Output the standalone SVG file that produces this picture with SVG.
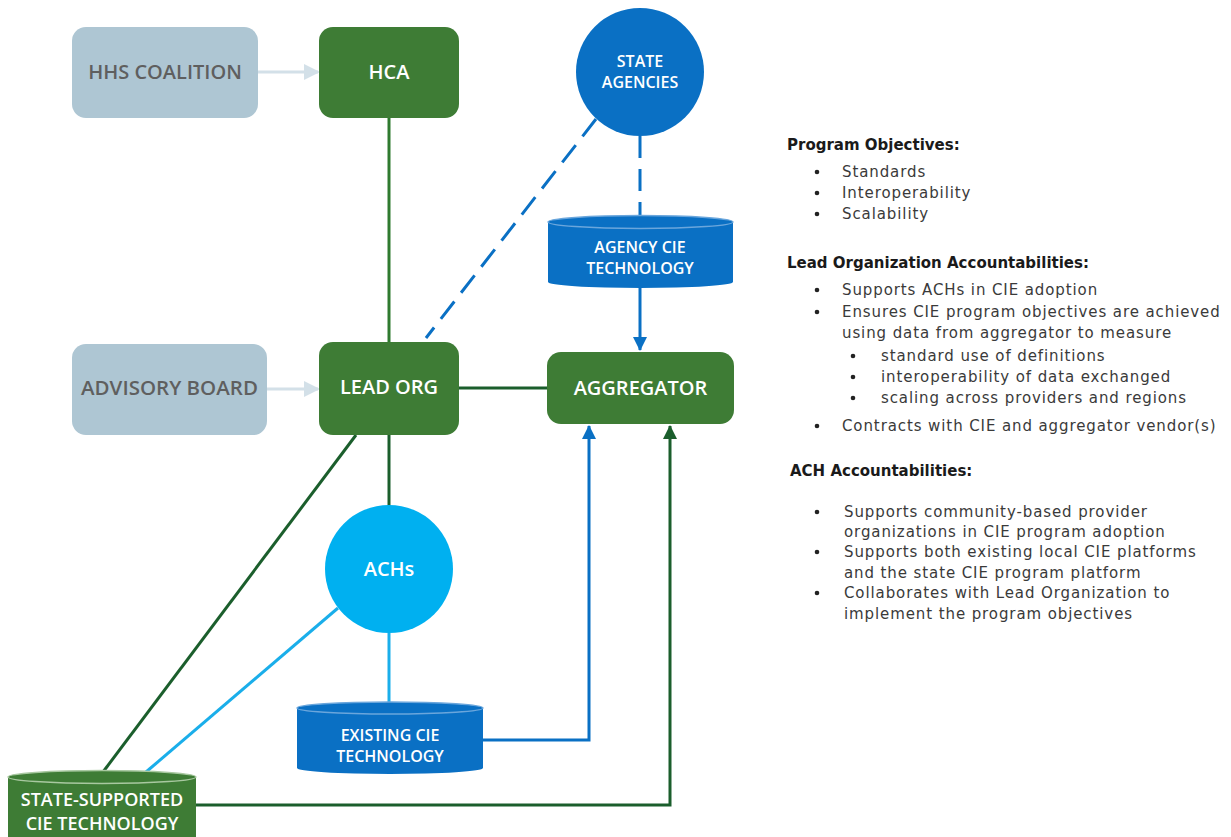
<svg xmlns="http://www.w3.org/2000/svg" width="1231" height="837" viewBox="0 0 1231 837">
<defs>
<style>
.grey{fill:#aec6d3;}
.green{fill:#3e7c35;}
.nt{font-family:"Open Sans","Liberation Sans",sans-serif;font-weight:600;text-anchor:middle;}
.wt{fill:#ffffff;}
.gt{fill:#5f5f5f;}
.side{font-family:"DejaVu Sans","Liberation Sans",sans-serif;font-size:15px;letter-spacing:0.9px;fill:#3a3a3a;}
.head{font-family:"DejaVu Sans","Liberation Sans",sans-serif;font-size:15px;font-weight:bold;fill:#1a1a1a;}
.dot{fill:#222;}
.c{fill:none;stroke-width:3;}
</style>
<marker id="aL" markerUnits="userSpaceOnUse" markerWidth="16" markerHeight="16" refX="14" refY="8" orient="auto"><path d="M0,0 L16,8 L0,16 z" fill="#d3e0e8"/></marker>
<marker id="aB" markerUnits="userSpaceOnUse" markerWidth="14" markerHeight="14" refX="13" refY="7" orient="auto"><path d="M0,0 L14,7 L0,14 z" fill="#0a70c4"/></marker>
<marker id="aG" markerUnits="userSpaceOnUse" markerWidth="14" markerHeight="14" refX="13" refY="7" orient="auto"><path d="M0,0 L14,7 L0,14 z" fill="#1b5e2c"/></marker>
</defs>
<rect width="1231" height="837" fill="#ffffff"/>

<g id="connectors">
<line class="c" x1="258" y1="72" x2="318" y2="72" stroke="#d3e0e8" marker-end="url(#aL)"/>
<line class="c" x1="267" y1="389" x2="318" y2="389" stroke="#d3e0e8" marker-end="url(#aL)"/>
<line class="c" x1="389" y1="118" x2="389" y2="342" stroke="#2f7a2f"/>
<line class="c" x1="459" y1="388" x2="547" y2="388" stroke="#1b5e2c"/>
<line class="c" x1="389" y1="435" x2="389" y2="506" stroke="#1b5e2c"/>
<line class="c" x1="596" y1="119" x2="426" y2="338" stroke="#0a70c4" stroke-dasharray="22,11"/>
<line class="c" x1="640" y1="136" x2="640" y2="215" stroke="#0a70c4" stroke-dasharray="22,11"/>
<line class="c" x1="640" y1="287" x2="640" y2="350" stroke="#0a70c4" marker-end="url(#aB)"/>
<line class="c" x1="389" y1="633" x2="389" y2="703" stroke="#1aaeea"/>
<line class="c" x1="338" y1="608" x2="146" y2="772" stroke="#1aaeea"/>
<line class="c" x1="356" y1="435" x2="103" y2="772" stroke="#1b5e2c"/>
<polyline class="c" points="483,740 589,740 589,426" stroke="#0a70c4" marker-end="url(#aB)"/>
<polyline class="c" points="196,805 670,805 670,426" stroke="#1b5e2c" marker-end="url(#aG)"/>
</g>

<g id="hhs-coalition">
<rect class="grey" x="72" y="27" width="186" height="91" rx="14"/>
<text class="nt gt" x="165" y="79" font-size="20">HHS COALITION</text>
</g>
<g id="hca">
<rect class="green" x="319" y="27" width="140" height="91" rx="14"/>
<text class="nt wt" x="389" y="79" font-size="20">HCA</text>
</g>
<g id="state-agencies">
<circle cx="640" cy="72" r="64" fill="#0a70c4"/>
<text class="nt wt" x="640" y="67" font-size="16">STATE</text>
<text class="nt wt" x="640" y="88" font-size="16">AGENCIES</text>
</g>
<g id="agency-cie">
<path d="M548,222 L548,282 A92.5,6 0 0 0 733,282 L733,222 z" fill="#0a70c4"/>
<ellipse cx="640.5" cy="222" rx="92.5" ry="6.5" fill="#0a70c4" stroke="#6aa6dc" stroke-width="1.5"/>
<text class="nt wt" x="640" y="253" font-size="16">AGENCY CIE</text>
<text class="nt wt" x="640" y="274" font-size="16">TECHNOLOGY</text>
</g>
<g id="advisory-board">
<rect class="grey" x="72" y="344" width="195" height="91" rx="14"/>
<text class="nt gt" x="169.5" y="395" font-size="20.5">ADVISORY BOARD</text>
</g>
<g id="lead-org">
<rect class="green" x="319" y="342" width="140" height="93" rx="14"/>
<text class="nt wt" x="389" y="394" font-size="20">LEAD ORG</text>
</g>
<g id="aggregator">
<rect class="green" x="547" y="352" width="187" height="72" rx="14"/>
<text class="nt wt" x="640.5" y="395" font-size="20">AGGREGATOR</text>
</g>
<g id="achs">
<circle cx="389" cy="569" r="64" fill="#00b0f0"/>
<text class="nt wt" x="389" y="576" font-size="20">ACHs</text>
</g>
<g id="existing-cie">
<path d="M297,708 L297,768 A93,6 0 0 0 483,768 L483,708 z" fill="#0a70c4"/>
<ellipse cx="390" cy="708" rx="93" ry="6" fill="#0a70c4" stroke="#6aa6dc" stroke-width="1.5"/>
<text class="nt wt" x="390" y="741" font-size="16">EXISTING CIE</text>
<text class="nt wt" x="390" y="762" font-size="16">TECHNOLOGY</text>
</g>
<g id="state-supported-cie">
<path d="M8,777 L8,837 L196,837 L196,777 z" fill="#3e7c35"/>
<ellipse cx="102" cy="777" rx="94" ry="6.5" fill="#3e7c35" stroke="#a8c8a0" stroke-width="1.5"/>
<text class="nt wt" x="102" y="806" font-size="18">STATE-SUPPORTED</text>
<text class="nt wt" x="102" y="830" font-size="18">CIE TECHNOLOGY</text>
</g>

<g id="side-text">
<text class="head" x="787" y="150">Program Objectives:</text>
<circle class="dot" cx="817" cy="172" r="2.3"/>
<text class="side" x="842" y="177">Standards</text>
<circle class="dot" cx="817" cy="193" r="2.3"/>
<text class="side" x="842" y="198">Interoperability</text>
<circle class="dot" cx="817" cy="214" r="2.3"/>
<text class="side" x="842" y="219">Scalability</text>

<text class="head" x="787" y="268">Lead Organization Accountabilities:</text>
<circle class="dot" cx="817" cy="290" r="2.3"/>
<text class="side" x="842" y="295">Supports ACHs in CIE adoption</text>
<circle class="dot" cx="817" cy="312" r="2.3"/>
<text class="side" x="842" y="317">Ensures CIE program objectives are achieved</text>
<text class="side" x="842" y="338">using data from aggregator to measure</text>
<circle class="dot" cx="853" cy="356" r="2.3"/>
<text class="side" x="881" y="361">standard use of definitions</text>
<circle class="dot" cx="853" cy="377" r="2.3"/>
<text class="side" x="881" y="382">interoperability of data exchanged</text>
<circle class="dot" cx="853" cy="398" r="2.3"/>
<text class="side" x="881" y="403">scaling across providers and regions</text>
<circle class="dot" cx="817" cy="426" r="2.3"/>
<text class="side" x="842" y="431">Contracts with CIE and aggregator vendor(s)</text>

<text class="head" x="790" y="476">ACH Accountabilities:</text>
<circle class="dot" cx="817" cy="512" r="2.3"/>
<text class="side" x="844" y="517">Supports community-based provider</text>
<text class="side" x="844" y="537">organizations in CIE program adoption</text>
<circle class="dot" cx="817" cy="552" r="2.3"/>
<text class="side" x="844" y="557">Supports both existing local CIE platforms</text>
<text class="side" x="844" y="578">and the state CIE program platform</text>
<circle class="dot" cx="817" cy="593" r="2.3"/>
<text class="side" x="844" y="598">Collaborates with Lead Organization to</text>
<text class="side" x="844" y="619">implement the program objectives</text>
</g>
</svg>
